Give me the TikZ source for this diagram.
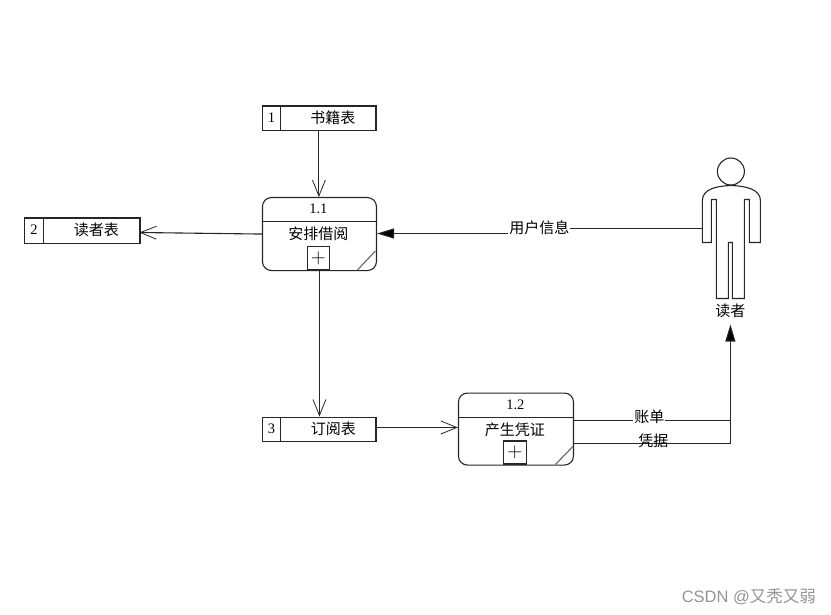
\documentclass[tikz,border=0pt]{standalone}
\usepackage{fontspec}
\setmainfont{Liberation Serif}
\newfontfamily\cjk{Noto Sans CJK SC}[Scale=1]
\newfontfamily\wm{Liberation Sans}
\usetikzlibrary{arrows.meta}
\definecolor{ink}{gray}{0.15}
\tikzset{
  every path/.style={line width=1.1pt},
  txt/.style={inner sep=0pt,text=black,font=\cjk\fontsize{15}{15}\selectfont},
  num/.style={inner sep=0pt,text=black,font=\fontsize{14.5}{14.5}\selectfont},
  store/.style={draw,minimum height=24.5pt,inner sep=0pt,anchor=north west},
  proc/.style={draw,rounded corners=9pt,minimum width=114pt,minimum height=73pt,inner sep=0pt,anchor=north west},
  plusbox/.style={draw,minimum width=22.5pt,minimum height=23pt,inner sep=0pt,anchor=south,font=\fontsize{20}{20}\selectfont,text=black},
  corner/.style={draw=black!60},
  openarr/.style={-{Straight Barb[length=16pt,width=13pt,line width=0.8pt]}},
  fillarr/.style={-{Triangle[length=17pt,width=10pt,fill=black]}},
  lbl/.style={txt,fill=white,inner xsep=1pt,inner ysep=1pt},
}
\begin{document}
\begin{tikzpicture}[x=1pt,y=-1pt,color=ink]
\useasboundingbox (0.6,0.5) rectangle (831.6,615.5);
% stores
\node[store,minimum width=113.5pt] (s1) at (262.5,106) {};
\draw (281.5,106) -- (281.5,130.5);
\node[num] (s1n) at (272,118) {1};
\node[txt] (s1t) at (333.5,118) {书籍表};
\node[store,minimum width=115pt,minimum height=25.5pt] (s2) at (25,218) {};
\draw (44.5,218) -- (44.5,243.5);
\node[num] (s2n) at (34.5,230.5) {2};
\node[txt] (s2t) at (97,230) {读者表};
\node[store,minimum width=113.5pt] (s3) at (262.5,417) {};
\draw (281.5,417) -- (281.5,441);
\node[num] (s3n) at (272,429) {3};
\node[txt] (s3t) at (334,429) {订阅表};
% processes
\node[proc] (p1) at (262.5,197.5) {};
\draw (p1.west |- 0,222) -- (p1.east |- 0,222);
\node[num] (p1n) at (319,209.5) {1.1};
\node[txt] (p1t) at (319,234) {安排借阅};
\node[plusbox] (p1p) at (319,270.5) {$+$};
\draw[corner] (358,270.5) -- (376,251.5);
\node[proc,minimum width=115pt,minimum height=72pt] (p2) at (458.5,393) {};
\draw (p2.west |- 0,418) -- (p2.east |- 0,418);
\node[num] (p2n) at (516,405) {1.2};
\node[txt] (p2t) at (515.5,430) {产生凭证};
\node[plusbox] (p2p) at (515.5,465) {$+$};
\draw[corner] (556,465) -- (573.5,447);
% person
\node[draw,circle,minimum size=27pt,inner sep=0pt] (head) at (731.5,172) {};
\draw[rounded corners=0pt] (703,243) -- (703,201) .. controls (703,190) and (716,186.5) .. (731.5,186) .. controls (747,186.5) and (761,190) .. (761,201) -- (761,243) -- (750,243) -- (750,200) -- (745,200) -- (745,299) -- (733,299) -- (733,243) -- (729,243) -- (729,299) -- (717,299) -- (717,200) -- (712,200) -- (712,243) -- cycle;
\coordinate (hand) at (703,229);
\node[txt] (reader) at (731,311) {读者};
\coordinate (readerin) at (731,325);
% connectors
\draw[openarr] (s1.south -| 319.5,0) -- (p1.north -| 319.5,0);
\coordinate (s2in) at (140,233);
\draw[openarr] (p1.west) -- (s2in);
\draw[openarr] (p1.south) -- (s3.north -| p1.south);
\coordinate (s3out) at (s3.east |- 0,428);
\draw[openarr] (s3out) -- (p2.west |- s3out);
\coordinate (bend) at (510,229);
\draw[fillarr] (hand) -- (bend) -- (510,234) -- (p1.east |- 0,234);
\node[lbl] (l1) at (540,228) {用户信息};
\coordinate (j1) at (731,421);
\coordinate (j2) at (731,444);
\draw (p2.east |- j1) -- (j1);
\draw[fillarr] (p2.east |- j2) -- (j2) -- (readerin);
\node[lbl] (l2) at (650,417) {账单};
\node[txt] (l3) at (654,441) {凭据};
% watermark
\node[inner sep=0pt,text=black!42,font=\fontsize{16.5}{16.5}\selectfont,anchor=east] (wm) at (817,597) {\wm CSDN @\cjk 又秃又弱};
\end{tikzpicture}
\end{document}
